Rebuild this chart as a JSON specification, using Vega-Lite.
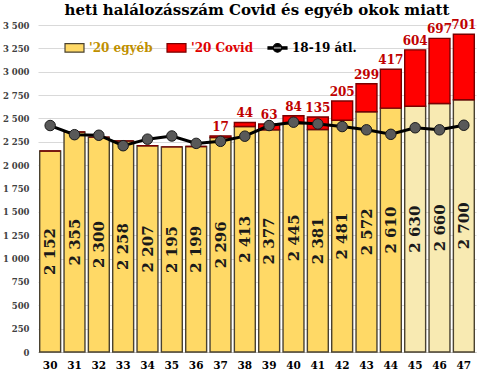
{
  "$schema": "https://vega.github.io/schema/vega-lite/v6.json",
  "width": 480,
  "height": 374,
  "autosize": {"type": "fit", "contains": "padding"},
  "padding": {"left": 2, "right": 4, "top": 4, "bottom": 3},
  "background": "white",
  "title": {"text": "heti halálozásszám Covid és egyéb okok miatt", "font": "DejaVu Serif", "fontSize": 15, "fontWeight": "bold", "color": "#000000", "offset": 1},
  "config": {
    "locale": {"number": {"decimal": ",", "thousands": " ", "grouping": [3], "currency": ["", ""]}},
    "view": {"stroke": null}
  },
  "data": {"values": [
    {"week": 30, "type": "'20 egyéb", "value": 2152}, {"week": 30, "type": "'20 Covid", "value": 0}, {"week": 30, "type": "18-19 átl.", "value": 2424},
    {"week": 31, "type": "'20 egyéb", "value": 2355}, {"week": 31, "type": "'20 Covid", "value": 0}, {"week": 31, "type": "18-19 átl.", "value": 2326},
    {"week": 32, "type": "'20 egyéb", "value": 2300}, {"week": 32, "type": "'20 Covid", "value": 0}, {"week": 32, "type": "18-19 átl.", "value": 2320},
    {"week": 33, "type": "'20 egyéb", "value": 2258}, {"week": 33, "type": "'20 Covid", "value": 0}, {"week": 33, "type": "18-19 átl.", "value": 2208},
    {"week": 34, "type": "'20 egyéb", "value": 2207}, {"week": 34, "type": "'20 Covid", "value": 0}, {"week": 34, "type": "18-19 átl.", "value": 2278},
    {"week": 35, "type": "'20 egyéb", "value": 2195}, {"week": 35, "type": "'20 Covid", "value": 0}, {"week": 35, "type": "18-19 átl.", "value": 2312},
    {"week": 36, "type": "'20 egyéb", "value": 2199}, {"week": 36, "type": "'20 Covid", "value": 0}, {"week": 36, "type": "18-19 átl.", "value": 2233},
    {"week": 37, "type": "'20 egyéb", "value": 2296}, {"week": 37, "type": "'20 Covid", "value": 17}, {"week": 37, "type": "18-19 átl.", "value": 2255},
    {"week": 38, "type": "'20 egyéb", "value": 2413}, {"week": 38, "type": "'20 Covid", "value": 44}, {"week": 38, "type": "18-19 átl.", "value": 2310},
    {"week": 39, "type": "'20 egyéb", "value": 2377}, {"week": 39, "type": "'20 Covid", "value": 63}, {"week": 39, "type": "18-19 átl.", "value": 2424},
    {"week": 40, "type": "'20 egyéb", "value": 2445}, {"week": 40, "type": "'20 Covid", "value": 84}, {"week": 40, "type": "18-19 átl.", "value": 2460},
    {"week": 41, "type": "'20 egyéb", "value": 2381}, {"week": 41, "type": "'20 Covid", "value": 135}, {"week": 41, "type": "18-19 átl.", "value": 2441},
    {"week": 42, "type": "'20 egyéb", "value": 2481}, {"week": 42, "type": "'20 Covid", "value": 205}, {"week": 42, "type": "18-19 átl.", "value": 2413},
    {"week": 43, "type": "'20 egyéb", "value": 2572}, {"week": 43, "type": "'20 Covid", "value": 299}, {"week": 43, "type": "18-19 átl.", "value": 2378},
    {"week": 44, "type": "'20 egyéb", "value": 2610}, {"week": 44, "type": "'20 Covid", "value": 417}, {"week": 44, "type": "18-19 átl.", "value": 2330},
    {"week": 45, "type": "'20 egyéb", "value": 2630}, {"week": 45, "type": "'20 Covid", "value": 604}, {"week": 45, "type": "18-19 átl.", "value": 2400},
    {"week": 46, "type": "'20 egyéb", "value": 2660}, {"week": 46, "type": "'20 Covid", "value": 697}, {"week": 46, "type": "18-19 átl.", "value": 2378},
    {"week": 47, "type": "'20 egyéb", "value": 2700}, {"week": 47, "type": "'20 Covid", "value": 701}, {"week": 47, "type": "18-19 átl.", "value": 2427}
  ]},
  "encoding": {
    "x": {
      "field": "week", "type": "ordinal",
      "scale": {"paddingInner": 0.14, "paddingOuter": 0.07},
      "axis": {"title": null, "labelAngle": 0, "labelFont": "DejaVu Serif", "labelFontSize": 10.5, "labelFontWeight": "bold", "labelColor": "#000000", "ticks": false, "domainColor": "#bfbfbf", "labelPadding": 8}
    }
  },
  "layer": [
    {
      "transform": [{"filter": "datum.type != '18-19 átl.'"}],
      "mark": {"type": "bar", "strokeWidth": 1.4},
      "encoding": {
        "y": {"field": "value", "type": "quantitative", "stack": "zero", "scale": {"domain": [0, 3500], "nice": false},
          "axis": {"title": null, "domain": false, "ticks": false, "gridColor": "#d9d9d9", "values": [0, 250, 500, 750, 1000, 1250, 1500, 1750, 2000, 2250, 2500, 2750, 3000, 3250, 3500], "labelExpr": "format(datum.value, ',')", "labelFont": "DejaVu Serif", "labelFontSize": 8.5, "labelFontWeight": "bold", "labelColor": "#404040", "labelPadding": 9}},
        "color": {
          "condition": {"test": "datum.week >= 45 && indexof(datum.type, 'egy') >= 0", "value": "#f8eab2"},
          "field": "type", "type": "nominal",
          "scale": {"domain": ["'20 egyéb", "'20 Covid", "18-19 átl."], "range": ["#ffd966", "#ff0000", "#000000"]},
          "legend": {
            "orient": "none", "legendX": 26, "legendY": 12, "direction": "horizontal", "title": null,
            "labelFont": "DejaVu Serif", "labelFontSize": 12, "labelFontWeight": "bold", "labelOffset": 4, "columnPadding": 11, "symbolSize": 360,
            "symbolType": {"expr": "datum.value == '18-19 átl.' ? 'M-1,-0.12H1V0.12H-1Z M-0.45,0A0.45,0.45 0 1 0 0.45,0A0.45,0.45 0 1 0 -0.45,0Z' : 'M-1,-0.45H1V0.45H-1Z'"},
            "labelColor": {"expr": "datum.value == '18-19 átl.' ? '#000000' : (indexof(datum.value, 'Covid') >= 0 ? '#e00000' : '#bf9000')"},
            "symbolStrokeColor": {"expr": "datum.value == '18-19 átl.' ? '#000000' : (indexof(datum.value, 'Covid') >= 0 ? '#7a0000' : '#4a4230')"},
            "symbolStrokeWidth": 1.2,
            "symbolOpacity": 1
          }
        },
        "stroke": {"condition": {"test": "indexof(datum.type, 'Covid') >= 0", "value": "#7a0000"}, "value": "#4a4230"},
        "order": {"field": "type", "sort": "descending"}
      }
    },
    {
      "transform": [{"filter": "datum.type == '18-19 átl.'"}],
      "mark": {"type": "line", "strokeWidth": 3, "color": "#000000"},
      "encoding": {
        "y": {"field": "value", "type": "quantitative", "scale": {"domain": [0, 3500], "nice": false}, "axis": null}
      }
    },
    {
      "transform": [{"filter": "datum.type == '18-19 átl.'"}],
      "mark": {"type": "point", "filled": true, "fill": "#595959", "stroke": "#1a1a1a", "strokeWidth": 1, "size": 110, "opacity": 1},
      "encoding": {
        "y": {"field": "value", "type": "quantitative", "scale": {"domain": [0, 3500], "nice": false}, "axis": null}
      }
    },
    {
      "transform": [{"filter": "datum.type != '18-19 átl.'"}],
      "mark": {"type": "text", "baseline": "bottom", "dy": -2, "font": "DejaVu Serif", "fontSize": 12, "fontWeight": "bold", "color": "#c00000"},
      "encoding": {
        "y": {"field": "value", "type": "quantitative", "stack": "zero", "scale": {"domain": [0, 3500], "nice": false}, "axis": null},
        "detail": {"field": "type"},
        "order": {"field": "type", "sort": "descending"},
        "text": {"condition": {"test": "indexof(datum.type, 'Covid') >= 0 && datum.value > 0", "field": "value", "type": "quantitative"}, "value": ""}
      }
    },
    {
      "transform": [{"filter": "indexof(datum.type, 'egy') >= 0"}],
      "mark": {"type": "text", "angle": 270, "align": "center", "baseline": "middle", "font": "DejaVu Serif", "fontSize": 15, "fontWeight": "bold", "color": "#1a1a1a"},
      "encoding": {
        "y": {"field": "value", "type": "quantitative", "scale": {"domain": [0, 7000], "nice": false}, "axis": null},
        "text": {"field": "value", "type": "quantitative", "format": ","}
      }
    }
  ],
  "resolve": {"scale": {"y": "independent"}}
}
